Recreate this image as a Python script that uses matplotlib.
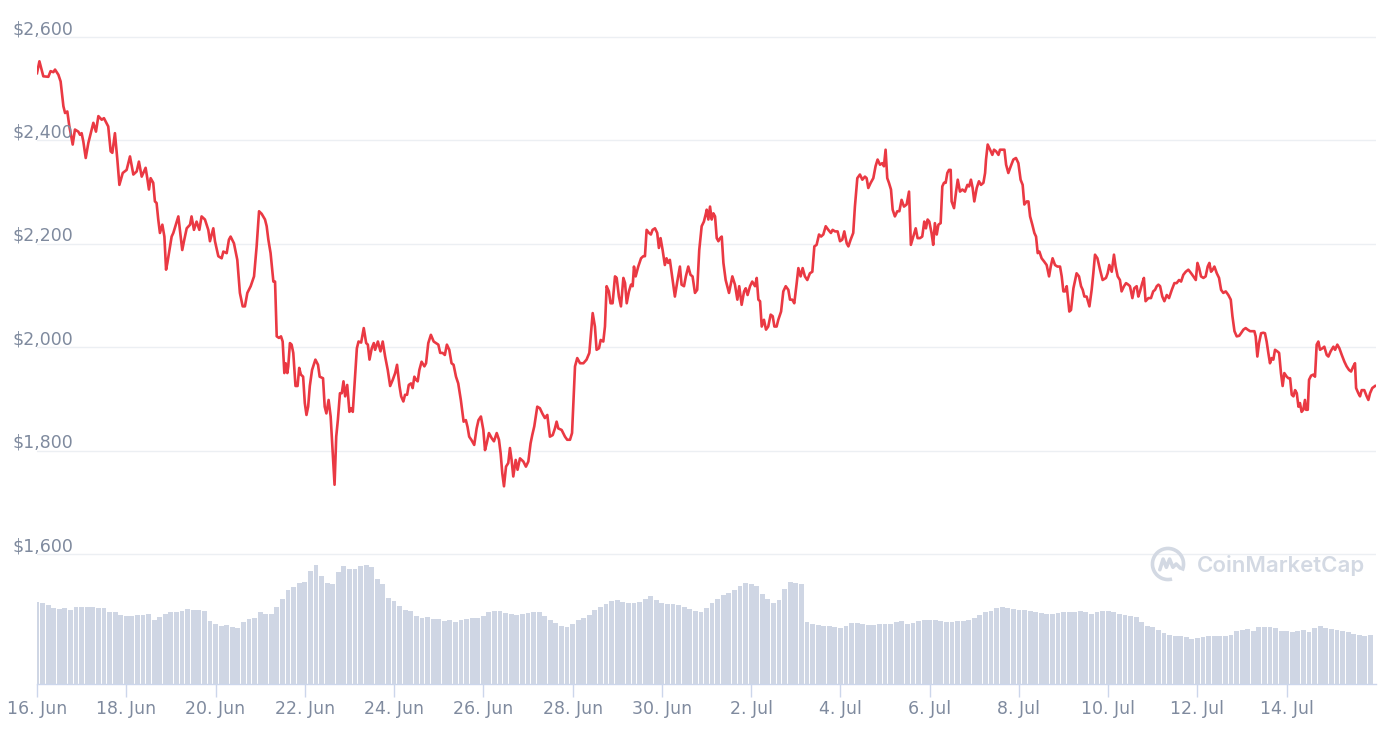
import numpy as np
import pandas as pd
import matplotlib
matplotlib.use("Agg")
import matplotlib.pyplot as plt
from matplotlib import transforms
from matplotlib.patches import Arc

# price trace: hours since 16 Jun 2021 00:00 and price in USD
hours = [
    0, 1.3, 3.4, 6.1, 7.3, 8.8, 9.7, 11.5, 12.7, 14.2,
    15.1, 16.3, 17.4, 18.1, 19.2, 20.4, 22.2, 23.1, 24.0, 24.9,
    26.2, 27.6, 28.9, 30.3, 31.7, 33.0, 34.8, 36.0, 38.3, 39.6,
    40.5, 41.9, 43.2, 44.3, 46.1, 48.2, 50.0, 51.8, 53.6, 54.8,
    56.3, 58.4, 59.3, 60.2, 61.1, 62.5, 63.4, 64.3, 65.2, 66.1,
    67.4, 68.5, 69.4, 70.1, 72.4, 73.3, 76.0, 78.1, 79.2, 80.5,
    82.3, 83.1, 84.4, 85.8, 87.3, 88.5, 90.3, 92.1, 93.0, 94.8,
    95.7, 97.5, 99.3, 100.2, 102.0, 103.2, 104.1, 105.9, 107.7, 109.1,
    110.6, 111.8, 113.1, 114.9, 116.7, 118.1, 119.4, 120.8, 122.6, 123.5,
    124.4, 125.6, 127.1, 128.0, 128.9, 130.1, 131.2, 132.1, 133.0, 133.7,
    134.6, 135.1, 136.0, 136.9, 137.8, 139.0, 140.1, 141.0, 141.9, 143.1,
    144.0, 144.9, 145.8, 146.7, 147.9, 149.7, 151.1, 152.0, 153.8, 154.7,
    155.6, 156.8, 157.9, 159.0, 160.0, 160.9, 161.8, 162.9, 163.9, 164.8,
    165.7, 166.8, 168.0, 168.9, 169.8, 170.7, 172.0, 172.9, 174.3, 175.7,
    177.0, 177.9, 178.8, 180.0, 181.1, 181.8, 183.3, 184.7, 185.9, 187.2,
    188.6, 189.9, 191.3, 192.6, 193.6, 194.9, 195.8, 197.0, 197.9, 199.0,
    199.9, 201.1, 202.0, 202.9, 203.8, 204.7, 205.6, 206.8, 208.3, 209.2,
    210.4, 211.8, 213.3, 214.5, 215.8, 216.8, 218.1, 219.3, 220.4, 221.7,
    222.9, 224.0, 225.3, 226.5, 227.9, 229.4, 230.6, 231.5, 232.4, 233.7,
    235.1, 236.4, 237.4, 238.7, 240.0, 240.9, 241.8, 243.0, 244.5, 245.7,
    247.2, 248.4, 249.3, 250.2, 251.1, 252.2, 253.4, 254.3, 255.2, 256.1,
    257.4, 258.4, 259.7, 261.5, 262.9, 264.2, 265.4, 266.3, 267.4, 269.0,
    270.4, 271.7, 273.1, 274.4, 275.8, 277.3, 278.5, 279.4, 280.3, 282.1,
    283.9, 285.1, 286.6, 287.7, 288.4, 289.3, 290.5, 292.0, 293.8, 295.5,
    297.0, 297.9, 298.8, 300.0, 300.9, 302.2, 303.1, 304.5, 305.4, 306.3,
    307.5, 308.4, 309.5, 310.8, 311.7, 312.9, 314.0, 315.3, 316.2, 317.1,
    318.3, 319.4, 320.3, 321.0, 321.9, 323.3, 324.8, 326.0, 326.9, 327.8,
    329.1, 330.1, 331.0, 332.3, 333.5, 334.4, 335.3, 336.4, 337.6, 338.5,
    339.4, 340.3, 341.8, 343.0, 344.3, 345.7, 346.6, 347.9, 348.9, 350.2,
    351.4, 352.5, 353.8, 355.0, 356.1, 357.4, 358.6, 359.7, 360.1, 361.0,
    361.9, 362.8, 363.7, 364.6, 365.5, 366.4, 367.3, 368.2, 369.1, 370.3,
    372.1, 373.9, 375.3, 376.6, 377.6, 378.9, 380.2, 381.1, 382.1, 383.4,
    384.6, 386.1, 387.0, 387.9, 388.8, 389.7, 390.9, 392.0, 393.2, 394.5,
    395.6, 396.5, 397.7, 398.6, 400.1, 401.3, 402.6, 404.0, 404.9, 406.1,
    407.2, 408.5, 409.4, 410.6, 411.7, 412.9, 414.2, 415.6, 416.9, 418.0,
    419.2, 420.5, 421.6, 422.8, 424.1, 425.5, 426.9, 427.8, 429.1, 430.5,
    431.8, 433.0, 434.1, 435.4, 436.3, 437.5, 438.9, 439.8, 441.1, 442.5,
    443.8, 445.2, 446.1, 447.0, 448.3, 449.7, 450.9, 452.0, 453.3, 454.5,
    455.4, 456.3, 457.2, 458.1, 459.2, 460.1, 461.3, 462.6, 463.7, 464.9,
    466.2, 467.6, 468.9, 469.9, 471.2, 472.5, 473.5, 474.8, 476.0, 477.1,
    478.0, 478.9, 479.8, 481.0, 481.9, 482.8, 483.8, 484.7, 485.9, 486.8,
    487.7, 488.6, 489.5, 490.4, 491.3, 491.8, 493.1, 494.2, 495.1, 496.3,
    497.6, 499.0, 500.3, 501.2, 502.2, 503.1, 504.0, 505.3, 506.5, 507.6,
    508.9, 509.8, 510.3, 511.2, 512.5, 513.7, 514.6, 515.7, 517.0, 517.8,
    519.3, 520.2, 521.1, 522.3, 523.6, 525.0, 526.4, 527.7, 528.9, 530.0,
    530.9, 532.2, 533.1, 534.0, 535.2, 536.3, 537.2, 538.1, 539.0, 540.2,
    541.5, 542.9, 544.2, 545.1, 546.1, 547.4, 548.7, 550.1, 551.0, 551.9,
    552.8, 553.7, 555.1, 556.0, 557.3, 559.0, 560.3, 561.4, 562.3, 563.2,
    564.4, 565.9, 567.1, 568.0, 568.9, 570.2, 571.6, 573.0, 574.8, 575.7,
    576.6, 577.9, 579.1, 580.0, 581.1, 582.3, 583.2, 584.5, 585.6, 586.8,
    587.7, 589.0, 590.0, 591.3, 592.2, 593.1, 594.3, 595.2, 596.1, 597.6,
    599.0, 600.2, 601.2, 602.1, 603.0, 603.9, 605.1, 606.2, 607.5, 608.7,
    610.2, 611.6, 612.8, 614.1, 615.2, 616.4, 617.7, 619.1, 620.6, 621.8,
    623.1, 624.0, 624.9, 625.9, 627.2, 628.4, 629.5, 630.4, 631.3, 632.2,
    633.1, 634.4, 635.6, 636.7, 637.9, 639.2, 640.6, 641.9, 642.8, 643.9,
    645.1, 646.4, 647.4, 648.7, 649.9, 651.0, 652.3, 653.5, 654.6, 655.3,
    656.2, 657.1, 658.2, 659.4, 660.3, 661.2, 662.1, 663.0, 663.9, 664.8,
    665.7, 666.9, 667.9, 668.9, 669.8, 670.7, 672.0, 672.9, 673.8, 674.7,
    675.6, 676.5, 677.4, 678.3, 679.1, 680.0, 680.9, 681.8, 682.4, 683.3,
    684.0, 685.1, 686.3, 687.2, 688.1, 689.0, 689.9, 691.2, 692.2, 693.5,
    694.4, 695.6, 697.1, 698.0, 699.2, 700.3, 701.6, 703.0, 704.2, 705.5,
    706.6, 707.8, 708.7, 709.3, 710.5, 711.4, 712.3, 713.7, 715.0, 715.9,
    716.8, 718.0, 719.5,
]
price = [
    2530, 2553, 2524, 2523, 2534, 2532, 2537, 2527, 2514, 2466,
    2453, 2456, 2427, 2414, 2392, 2421, 2417, 2411, 2414, 2398,
    2366, 2395, 2414, 2434, 2417, 2447, 2440, 2443, 2427, 2379,
    2376, 2414, 2363, 2314, 2337, 2343, 2369, 2334, 2340, 2359,
    2330, 2347, 2327, 2305, 2327, 2318, 2282, 2279, 2247, 2221,
    2237, 2214, 2150, 2163, 2214, 2221, 2253, 2188, 2208, 2230,
    2237, 2253, 2227, 2243, 2227, 2253, 2247, 2227, 2205, 2230,
    2205, 2176, 2172, 2185, 2182, 2208, 2214, 2201, 2169, 2105,
    2079, 2079, 2105, 2118, 2137, 2195, 2263, 2258, 2247, 2234,
    2208, 2182, 2127, 2127, 2021, 2018, 2021, 2011, 1950, 1969,
    1950, 1963, 2008, 2005, 1989, 1925, 1925, 1960, 1947, 1943,
    1892, 1869, 1885, 1925, 1956, 1976, 1966, 1943, 1940, 1885,
    1872, 1898, 1866, 1795, 1734, 1827, 1860, 1911, 1911, 1934,
    1905, 1927, 1875, 1882, 1875, 1925, 1998, 2011, 2009, 2037,
    2008, 2005, 1976, 1998, 2008, 1995, 2011, 1992, 2011, 1982,
    1956, 1925, 1937, 1950, 1966, 1925, 1905, 1895, 1908, 1908,
    1927, 1930, 1921, 1943, 1937, 1934, 1956, 1972, 1963, 1969,
    2008, 2024, 2011, 2008, 2005, 1989, 1989, 1985, 2005, 1995,
    1969, 1966, 1943, 1930, 1898, 1856, 1859, 1846, 1827, 1820,
    1811, 1843, 1859, 1866, 1840, 1801, 1814, 1834, 1824, 1818,
    1834, 1821, 1795, 1756, 1731, 1769, 1776, 1805, 1782, 1750,
    1782, 1763, 1785, 1779, 1769, 1779, 1814, 1830, 1847, 1885,
    1882, 1872, 1863, 1869, 1827, 1830, 1843, 1856, 1843, 1840,
    1827, 1821, 1821, 1834, 1892, 1963, 1979, 1969, 1969, 1976,
    1989, 2027, 2066, 2040, 1995, 1998, 2014, 2011, 2040, 2118,
    2108, 2085, 2085, 2137, 2134, 2098, 2079, 2134, 2124, 2085,
    2108, 2121, 2118, 2156, 2137, 2156, 2172, 2176, 2176, 2227,
    2221, 2218, 2227, 2230, 2221, 2192, 2211, 2188, 2159, 2172,
    2163, 2169, 2130, 2098, 2127, 2156, 2121, 2118, 2137, 2156,
    2140, 2137, 2105, 2111, 2188, 2234, 2243, 2259, 2266, 2247,
    2272, 2247, 2259, 2253, 2211, 2205, 2211, 2214, 2163, 2130,
    2105, 2137, 2121, 2092, 2118, 2082, 2108, 2114, 2101, 2118,
    2127, 2118, 2134, 2092, 2089, 2040, 2053, 2034, 2040, 2063,
    2060, 2040, 2040, 2053, 2069, 2108, 2118, 2111, 2092, 2092,
    2085, 2124, 2153, 2137, 2153, 2137, 2130, 2143, 2146, 2195,
    2198, 2218, 2214, 2218, 2234, 2227, 2221, 2227, 2224, 2224,
    2205, 2208, 2224, 2201, 2195, 2208, 2221, 2272, 2327, 2334,
    2324, 2330, 2327, 2308, 2318, 2327, 2350, 2363, 2353, 2356,
    2350, 2382, 2327, 2318, 2305, 2266, 2253, 2263, 2263, 2285,
    2272, 2276, 2301, 2198, 2214, 2230, 2211, 2211, 2214, 2243,
    2230, 2247, 2243, 2221, 2198, 2240, 2218, 2237, 2240, 2311,
    2318, 2318, 2337, 2343, 2343, 2282, 2269, 2301, 2324, 2301,
    2305, 2301, 2314, 2311, 2324, 2308, 2282, 2308, 2321, 2314,
    2318, 2337, 2363, 2392, 2382, 2372, 2382, 2379, 2372, 2382,
    2382, 2382, 2353, 2337, 2350, 2363, 2366, 2356, 2324, 2314,
    2276, 2282, 2282, 2253, 2237, 2221, 2214, 2182, 2185, 2172,
    2166, 2159, 2137, 2156, 2172, 2159, 2156, 2156, 2137, 2108,
    2108, 2118, 2069, 2072, 2114, 2143, 2137, 2118, 2111, 2098,
    2098, 2079, 2111, 2143, 2179, 2172, 2150, 2130, 2134, 2143,
    2159, 2146, 2179, 2156, 2137, 2130, 2108, 2118, 2124, 2121,
    2118, 2095, 2114, 2118, 2098, 2108, 2124, 2134, 2089, 2095,
    2095, 2108, 2111, 2118, 2121, 2118, 2098, 2089, 2101, 2095,
    2111, 2124, 2124, 2130, 2127, 2140, 2146, 2150, 2143, 2137,
    2130, 2163, 2153, 2137, 2134, 2137, 2156, 2163, 2146, 2150,
    2156, 2143, 2134, 2111, 2105, 2108, 2101, 2092, 2060, 2031,
    2021, 2022, 2027, 2034, 2037, 2034, 2031, 2031, 2031, 2021,
    1982, 2008, 2027, 2028, 2027, 2011, 1989, 1969, 1979, 1976,
    1995, 1992, 1989, 1950, 1925, 1950, 1943, 1940, 1940, 1908,
    1905, 1917, 1911, 1885, 1892, 1875, 1879, 1898, 1879, 1879,
    1937, 1945, 1947, 1943, 2005, 2011, 1995, 1998, 2001, 1985,
    1982, 1992, 2001, 1995, 2005, 1998, 1985, 1972, 1963, 1956,
    1953, 1963, 1969, 1921, 1911, 1905, 1917, 1917, 1905, 1898,
    1911, 1921, 1925,
]

# 24h volume, one value every 3 hours (relative units), 8 per day
volume = [
    82, 81, 79, 76, 75, 76, 74, 77,
    77, 77, 77, 76, 76, 72, 72, 69,
    68, 68, 69, 69, 70, 64, 67, 70,
    72, 72, 73, 75, 74, 74, 73, 63,
    60, 58, 59, 57, 56, 62, 65, 66,
    72, 70, 70, 77, 85, 94, 97, 101,
    102, 113, 119, 108, 101, 100, 112, 118,
    115, 115, 118, 119, 117, 105, 100, 86,
    83, 78, 74, 73, 68, 66, 67, 65,
    65, 63, 64, 62, 64, 65, 66, 66,
    68, 72, 73, 73, 71, 70, 69, 70,
    71, 72, 72, 68, 64, 61, 58, 57,
    60, 64, 66, 69, 74, 77, 80, 83,
    84, 82, 81, 81, 82, 85, 88, 84,
    81, 80, 80, 79, 77, 75, 73, 72,
    76, 81, 85, 89, 91, 94, 98, 101,
    100, 98, 90, 85, 81, 84, 95, 102,
    101, 100, 62, 60, 59, 58, 58, 57,
    56, 58, 61, 61, 60, 59, 59, 60,
    60, 60, 62, 63, 60, 61, 63, 64,
    64, 64, 63, 62, 62, 63, 63, 64,
    66, 69, 72, 73, 76, 77, 76, 75,
    74, 74, 73, 72, 71, 70, 70, 71,
    72, 72, 72, 73, 72, 70, 72, 73,
    73, 72, 70, 69, 68, 67, 62, 58,
    57, 54, 51, 49, 48, 48, 47, 45,
    46, 47, 48, 48, 48, 48, 49, 53,
    54, 55, 53, 57, 57, 57, 56, 53,
    53, 52, 53, 54, 52, 56, 58, 56,
    55, 54, 53, 52, 50, 49, 48, 49,
]

price_ticks = [1600, 1800, 2000, 2200, 2400, 2600]
start_date = "2021-06-16"

LINE = "#ea3943"
BAR = "#cfd6e4"
GRID = "#eceff3"
AXIS = "#ccd6eb"
LABEL = "#7f8a9e"

W, H = 1398, 729
fig = plt.figure(figsize=(W / 100, H / 100), dpi=100)
rect = [37 / W, 45 / H, 1339 / W, 664 / H]

# volume bars in the back
vax = fig.add_axes(rect)
vol_x = np.arange(len(volume)) * 3
vax.bar(vol_x, volume, width=2.6, color=BAR, linewidth=0)
vax.set_xlim(0, 720)
vax.set_ylim(0, 664)
vax.axis("off")

# price on top
ax = fig.add_axes(rect)
ax.patch.set_alpha(0)
ax.plot(hours, price, color=LINE, lw=1.9, solid_joinstyle="round")
ax.set_xlim(0, 720)
ax.set_ylim(1348.6, 2632.9)
ax.set_yticks(price_ticks)
ax.yaxis.grid(True, color=GRID, lw=1)
ax.set_axisbelow(True)
ax.tick_params(axis="y", left=False, labelleft=False)
for s in ["top", "right", "left"]:
    ax.spines[s].set_visible(False)
ax.spines["bottom"].set_color(AXIS)
ax.spines["bottom"].set_linewidth(1)

dates = pd.date_range(start_date, periods=15, freq="2D")
ax.set_xticks(np.arange(0, 720, 48))
ax.set_xticklabels([f"{d.day}. {d.strftime('%b')}" for d in dates])
ax.tick_params(axis="x", length=9, width=1, color=AXIS, labelcolor=LABEL,
               labelsize=12.5, pad=2.5)

# y labels sit above the grid lines
lab_tr = transforms.offset_copy(ax.get_yaxis_transform(), fig=fig, x=0, y=3, units="dots")
for v in price_ticks:
    ax.text(-25 / 1339, v, f"${v:,}", transform=lab_tr, ha="left", va="baseline",
            color=LABEL, fontsize=12.5)

# watermark
WM = "#d3d9e3"
fig.text(1197 / W, 1 - 566 / H, "CoinMarketCap", color=WM, fontsize=16,
         fontweight="semibold", family=["Inter", "DejaVu Sans"], ha="left", va="center")
lax = fig.add_axes([1150 / W, 1 - 582 / H, 36 / W, 36 / H])
lax.set_xlim(-1.1, 1.1)
lax.set_ylim(-1.1, 1.1)
lax.add_patch(Arc((0, 0), 1.9, 1.9, theta1=-25, theta2=285, color=WM, lw=2.6))
lax.plot([-0.5, -0.3, -0.1, 0.1, 0.3, 0.5, 0.75], [-0.35, 0.3, -0.2, 0.3, -0.2, 0.0, -0.25],
         color=WM, lw=2.6, solid_capstyle="round", solid_joinstyle="round")
lax.axis("off")

fig.savefig("out.png", dpi=100, facecolor="white")
